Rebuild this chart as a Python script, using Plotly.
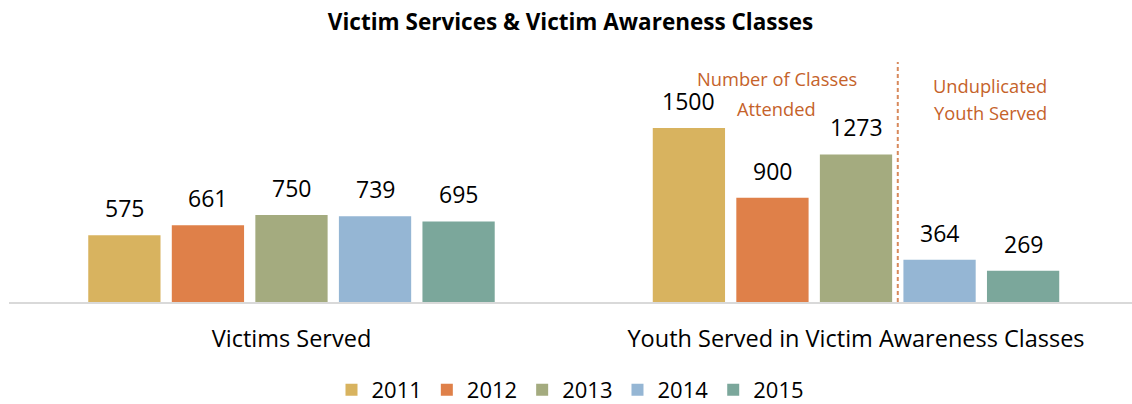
import plotly.graph_objects as go

categories = ["Victims Served", "Youth Served in Victim Awareness Classes"]
years = ["2011", "2012", "2013", "2014", "2015"]
values = {
    "2011": [575, 1500],
    "2012": [661, 900],
    "2013": [750, 1273],
    "2014": [739, 364],
    "2015": [695, 269],
}
colors = ["#D8B35F", "#DF8049", "#A4AB7F", "#95B6D4", "#7BA79B"]

FONT = "'Open Sans', sans-serif"
BARGAP = 0.26
GROUPGAP = 0.135
n = len(years)

fig = go.Figure()
for yr, col in zip(years, colors):
    fig.add_trace(go.Bar(
        name=yr, x=[0, 1], y=values[yr], marker=dict(color=col, line=dict(width=0)),
    ))

# value labels above each bar, placed from the bar's own value
slot = (1 - BARGAP) / n
for i, yr in enumerate(years):
    off = -(1 - BARGAP) / 2 + (i + 0.5) * slot
    for c, v in enumerate(values[yr]):
        fig.add_annotation(x=c + off, y=v, text=str(v), showarrow=False,
                           yanchor="bottom", yshift=9,
                           font=dict(size=23, color="#000000", family=FONT))

# divider between 2013 and 2014 in the second group
div_x = 1 - (1 - BARGAP) / 2 + 3 * slot
fig.add_shape(type="line", x0=div_x, x1=div_x, y0=0, y1=1, yref="paper",
              xref="x", x0shift=0, line=dict(color="#D8895C", width=2, dash="4px,3px"))

orange = "#C5622A"
left_mid = 1 - (1 - BARGAP) / 2 + 1.5 * slot
right_mid = 1 - (1 - BARGAP) / 2 + 4 * slot
for txt, xc, xs, ys in [("Number of Classes", left_mid, 5, -16),
                        ("Attended", left_mid, 4, -46),
                        ("Unduplicated", right_mid, 9, -23),
                        ("Youth Served", right_mid, 9, -50)]:
    fig.add_annotation(x=xc, y=1.0, yref="paper", text=txt, showarrow=False,
                       yanchor="middle", xshift=xs, yshift=ys,
                       font=dict(size=18.3, color=orange, family=FONT))

fig.update_layout(
    width=1132, height=404,
    margin=dict(l=9, r=0, t=62, b=102, autoexpand=False),
    paper_bgcolor="white", plot_bgcolor="white",
    barmode="group", bargap=BARGAP, bargroupgap=GROUPGAP,
    title=dict(text="<b>Victim Services & Victim Awareness Classes</b>",
               x=0.5, xanchor="center", xref="paper",
               y=1 - 22 / 404, yanchor="middle", yref="container",
               font=dict(size=22.5, color="#000000", family=FONT)),
    font=dict(family=FONT, color="#000000"),
    showlegend=True,
    legend=dict(orientation="h", x=0.5, xanchor="center",
                y=(404 - 390) / 404, yanchor="middle", yref="container",
                font=dict(size=22, color="#000000", family=FONT),
                tracegroupgap=0),
    xaxis=dict(tickmode="array", tickvals=[0, 1], ticktext=categories,
               range=[-0.5004, 1.4889], showgrid=False, zeroline=False,
               showline=True, linecolor="#D9D9D9", linewidth=2,
               ticks="", tickfont=dict(size=23.5, color="#000000", family=FONT),
               ticklabelstandoff=15, automargin=False),
    yaxis=dict(range=[0, 2070], visible=False, showgrid=False, zeroline=False),
)

fig.write_html("out.html")
